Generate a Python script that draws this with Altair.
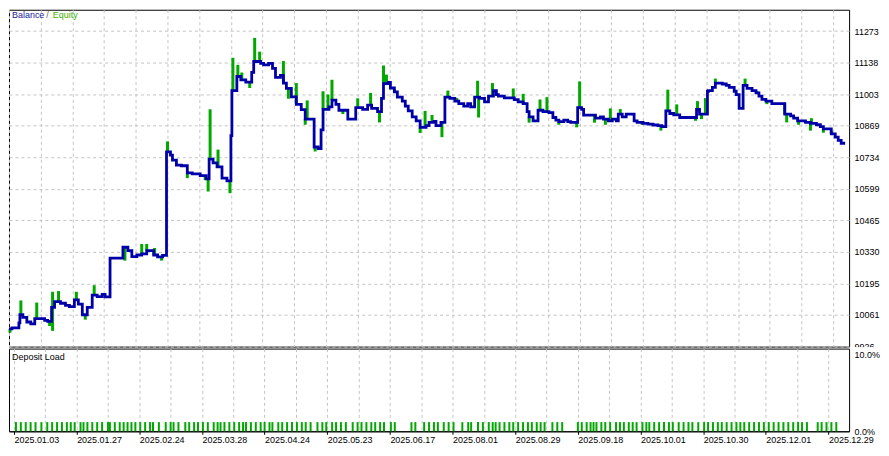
import bisect
import json
import altair as alt
import pandas as pd

# ---------------- data ----------------
# balance: trade sequence index -> balance value (step line)
bal_x = [0, 3, 10, 11, 14, 18, 22, 26, 36, 39, 43, 46, 52, 57, 61, 66, 70, 74, 79, 84,
         89, 94, 97, 102, 115, 120, 124, 129, 134, 139, 146, 150, 155, 159, 163, 165, 169, 174, 180, 185,
         193, 199, 202, 206, 210, 215, 220, 224, 225, 230, 234, 239, 245, 247, 254, 257, 262, 266, 269, 274,
         277, 280, 285, 290, 295, 299, 308, 312, 315, 317, 323, 326, 330, 333, 342, 350, 357, 362, 366, 372,
         376, 378, 383, 385, 389, 392, 397, 400, 403, 407, 411, 415, 421, 424, 429, 431, 436, 440, 445, 450,
         454, 459, 463, 466, 470, 475, 480, 484, 489, 492, 494, 500, 510, 514, 519, 523, 525, 529, 534, 539,
         545, 549, 552, 555, 560, 564, 567, 574, 578, 580, 592, 597, 600, 605, 609, 613, 615, 619, 623, 631,
         634, 640, 645, 650, 655, 659, 663, 667, 671, 677, 694, 697, 705, 706, 710, 713, 720, 724, 727, 732,
         734, 737, 741, 745, 750, 754, 757, 760, 764, 770, 783, 789, 792, 796, 804, 809, 815, 819, 822, 830,
         834, 837, 840, 844]
bal_v = [10002, 10006, 10027, 10062, 10051, 10031, 10023, 10045, 10038, 10034, 10093, 10118, 10111, 10102, 10097, 10125, 10107, 10062, 10093, 10146,
         10139, 10149, 10138, 10304, 10350, 10336, 10310, 10317, 10322, 10336, 10317, 10309, 10315, 10757, 10743, 10722, 10701, 10698, 10668, 10663,
         10656, 10642, 10726, 10710, 10693, 10645, 10633, 10827, 11019, 11079, 11065, 11055, 11097, 11143, 11135, 11129, 11135, 11114, 11075, 11084,
         11051, 11028, 10992, 10960, 10938, 10897, 10778, 10771, 10851, 10939, 10949, 10978, 10960, 10935, 10897, 10946, 10939, 10957, 10943, 10929,
         10986, 11049, 11054, 11030, 11013, 10991, 10974, 10953, 10932, 10907, 10890, 10862, 10869, 10883, 10887, 10869, 10883, 10991, 10986, 10974,
         10963, 10953, 10963, 10949, 10991, 10986, 10971, 10995, 11019, 11002, 10995, 10988, 10980, 10971, 10963, 10929, 10907, 10890, 10935, 10929,
         10925, 10904, 10893, 10886, 10893, 10886, 10883, 10946, 10939, 10914, 10901, 10907, 10897, 10890, 10897, 10890, 10918, 10907, 10918, 10890,
         10883, 10879, 10876, 10872, 10869, 10865, 10932, 10921, 10915, 10904, 10939, 10918, 11016, 11019, 11033, 11051, 11047, 11041, 11033, 11016,
         11002, 10943, 11041, 11028, 11019, 11009, 10995, 10981, 10974, 10963, 10918, 10911, 10901, 10890, 10883, 10879, 10873, 10865, 10855, 10834,
         10820, 10806, 10794, 10794]

# equity excursions away from the balance (index, equity value)
spike_x = [1, 12, 28, 41, 44, 44, 50, 68, 77, 86, 117, 134, 139, 147, 154, 160, 180, 198, 201, 203,
           211, 223, 226, 231, 235, 243, 248, 253, 277, 282, 290, 299, 301, 309, 317, 322, 326, 337, 352, 365,
           374, 378, 381, 389, 415, 420, 427, 437, 443, 452, 473, 474, 488, 509, 519, 525, 536, 543, 555, 573,
           576, 591, 602, 607, 617, 639, 658, 665, 674, 693, 695, 699, 703, 713, 743, 755, 765, 783, 785, 797,
           809, 810, 822, 830]
spike_v = [9985, 10123, 10114, 10014, 10160, 9993, 10163, 10160, 10041, 10188, 10293, 10364, 10364, 10347, 10293, 10802, 10645, 10637, 10588, 10939,
           10767, 10581, 11159, 11129, 11096, 11030, 11244, 11185, 11145, 10984, 11051, 10873, 10977, 10759, 11016, 11002, 11065, 10919, 10986, 11009,
           10883, 11126, 11087, 11025, 10838, 10932, 10915, 10820, 11019, 10987, 11061, 10904, 11051, 11028, 11005, 10882, 10981, 10991, 10873, 10862,
           11058, 10882, 10873, 10943, 10940, 10873, 10848, 11023, 10960, 10890, 10974, 10897, 10987, 11070, 11070, 11016, 10961, 10967, 10883, 10873,
           10848, 10901, 10839, 10848]

# deposit load bars (index, percent)
load_x = [2, 7, 12, 17, 22, 28, 34, 39, 44, 49, 54, 58, 62, 68, 71, 75, 80, 85, 90, 96,
          98, 103, 108, 112, 116, 120, 124, 129, 134, 139, 142, 148, 155, 160, 163, 168, 175, 179, 184, 188,
          193, 198, 204, 208, 211, 215, 220, 225, 230, 234, 237, 242, 247, 252, 256, 261, 264, 270, 274, 279,
          284, 289, 294, 298, 303, 310, 315, 319, 325, 329, 334, 339, 346, 351, 355, 360, 365, 369, 374, 378,
          385, 389, 406, 410, 419, 424, 429, 433, 439, 444, 449, 458, 464, 467, 474, 479, 485, 489, 492, 496,
          501, 506, 510, 515, 520, 525, 529, 534, 538, 542, 550, 555, 560, 576, 580, 585, 589, 592, 595, 600,
          604, 609, 615, 619, 623, 628, 632, 636, 642, 646, 649, 654, 659, 664, 669, 673, 679, 684, 689, 693,
          699, 705, 709, 714, 719, 723, 728, 733, 738, 742, 746, 751, 756, 761, 766, 771, 776, 781, 786, 791,
          796, 801, 805, 810, 821, 825, 830, 835, 840]
load_pct = [1.2, 1.2, 1.2, 1.2, 1.2, 1.2, 1.2, 1.2, 1.2, 1.2, 1.2, 1.2, 1.2, 1.2, 1.2, 1.2, 1.2, 1.2, 1.2, 1.2,
            1.2, 1.2, 1.2, 1.2, 1.2, 1.2, 1.2, 1.2, 1.2, 1.2, 1.2, 1.2, 1.2, 1.2, 1.2, 1.2, 1.2, 1.2, 1.2, 1.2,
            1.2, 1.2, 1.2, 1.2, 1.2, 1.2, 1.2, 1.2, 1.2, 1.2, 1.2, 1.2, 1.2, 1.2, 1.2, 1.2, 1.2, 1.2, 1.2, 1.2,
            1.2, 1.2, 1.2, 1.2, 1.2, 1.2, 1.2, 1.2, 1.2, 1.2, 1.2, 1.2, 1.2, 1.2, 1.2, 1.2, 1.2, 1.2, 1.2, 1.2,
            1.2, 1.2, 1.2, 1.2, 1.2, 1.2, 1.2, 1.2, 1.2, 1.2, 1.2, 1.2, 1.2, 1.2, 1.2, 1.2, 1.2, 1.2, 1.2, 1.2,
            1.2, 1.2, 1.2, 1.2, 1.2, 1.2, 1.2, 1.2, 1.2, 1.2, 1.2, 1.2, 1.2, 1.2, 1.2, 1.2, 1.2, 1.2, 1.2, 1.2,
            1.2, 1.2, 1.2, 1.2, 1.2, 1.2, 1.2, 1.2, 1.2, 1.2, 1.2, 1.2, 1.2, 1.2, 1.2, 1.2, 1.2, 1.2, 1.2, 1.2,
            1.2, 1.2, 1.2, 1.2, 1.2, 1.2, 1.2, 1.2, 1.2, 1.2, 1.2, 1.2, 1.2, 1.2, 1.2, 1.2, 1.2, 1.2, 1.2, 1.2,
            1.2, 1.2, 1.2, 1.2, 1.2, 1.2, 1.2, 1.2, 1.2]

date_labels = ["2025.01.03", "2025.01.27", "2025.02.24", "2025.03.28", "2025.04.24",
               "2025.05.23", "2025.06.17", "2025.08.01", "2025.08.29", "2025.09.18",
               "2025.10.01", "2025.10.30", "2025.12.01", "2025.12.29"]
y_ticks = [9926, 10061, 10195, 10330, 10465, 10599, 10734, 10869, 11003, 11138, 11273]
load_ticks = [0, 10]

# ---------------- styling ----------------
X_MAX = 848
BLUE = "#0000a8"
GREEN = "#00a800"
GRID = "#c4c4c4"
FONT = "Liberation Sans"
FS = 9
W = 843
H_TOP = 338
H_BOT = 83

bal = pd.DataFrame({"i": bal_x, "v": bal_v})
base = [bal_v[bisect.bisect_right(bal_x, s) - 1] for s in spike_x]
spk = pd.DataFrame({"i": spike_x, "v": spike_v, "b": base})
load = pd.DataFrame({"i": load_x, "p": load_pct})

xscale = alt.Scale(domain=[0, X_MAX], nice=False, zero=False)
yscale = alt.Scale(domain=[9926, 11364], nice=False, zero=False)
grid_vals = list(range(0, X_MAX + 1, 32))

top_xaxis = alt.Axis(values=grid_vals, labels=False, ticks=False, domain=False, title=None,
                     grid=True, gridColor=GRID, gridDash=[3, 3], gridWidth=1)
top_yaxis = alt.Axis(orient="right", values=y_ticks, format="d", title=None, ticks=False,
                     domain=False, labelPadding=5, grid=True, gridColor=GRID, gridDash=[3, 3],
                     gridWidth=1, labelBaseline="middle")

spikes = alt.Chart(spk).mark_rule(color=GREEN, strokeWidth=3).encode(
    x=alt.X("i:Q", scale=xscale, axis=top_xaxis),
    y=alt.Y("v:Q", scale=yscale, axis=top_yaxis),
    y2="b:Q",
)
line = alt.Chart(bal).mark_line(color=BLUE, strokeWidth=2.8, interpolate="step-after").encode(
    x=alt.X("i:Q", scale=xscale, axis=top_xaxis),
    y=alt.Y("v:Q", scale=yscale, axis=top_yaxis),
)


def label(txt, color, xpos, ypos):
    return alt.Chart(pd.DataFrame({"t": [txt]})).mark_text(
        align="left", baseline="middle", color=color, font=FONT, fontSize=FS
    ).encode(x=alt.value(xpos), y=alt.value(ypos), text="t:N")


top = alt.layer(
    spikes, line,
    label("Balance", "#1a1aa0", 3, 5),
    label("/", "#666666", 37.5, 5),
    label("Equity", "#40b000", 44, 5),
).properties(width=W, height=H_TOP)

labels_js = json.dumps(date_labels)
bot_xaxis = alt.Axis(
    values=grid_vals, title=None, grid=True, gridColor=GRID, gridDash=[3, 3], gridWidth=1,
    labelExpr=f"datum.value % 64 === 0 ? {labels_js}[datum.value / 64] : ''",
    labelAlign="left", labelPadding=1, labelOverlap=False, labelFlush=False, labelBaseline="top",
    tickSize=3, tickColor="black",
    tickOpacity={"condition": {"test": "datum.value % 64 === 0", "value": 1}, "value": 0},
    domain=True, domainColor="black",
)
bot_yaxis = alt.Axis(orient="right", values=load_ticks, title=None, ticks=False, domain=False,
                     grid=False, labelPadding=5,
                     labelExpr="format(datum.value, '.1f') + '%'", labelBaseline="middle")

bars = alt.Chart(load).mark_bar(color=GREEN, size=2, orient="vertical").encode(
    x=alt.X("i:Q", scale=xscale, axis=bot_xaxis),
    y=alt.Y("p:Q", scale=alt.Scale(domain=[0, 10.8], nice=False, zero=True), axis=bot_yaxis),
)
cover = alt.Chart(pd.DataFrame({"t": [""]})).mark_rect(color="white").encode(
    x=alt.value(W + 1), x2=alt.value(W + 30), y=alt.value(-1.5), y2=alt.value(2)
)

bottom = alt.layer(
    bars,
    cover,
    label("Deposit Load", "black", 3, 8),
).properties(width=W, height=H_BOT)

chart = alt.vconcat(top, bottom, spacing=2).properties(
    padding={"left": -6, "top": 0, "right": 0, "bottom": 0},
    bounds="flush",
).configure(background="white").configure_view(
    stroke="black", strokeWidth=1
).configure_axis(
    labelFont=FONT, labelFontSize=FS, labelColor="black"
)

chart.save("out.html", embed_options={"renderer": "svg", "actions": False})
